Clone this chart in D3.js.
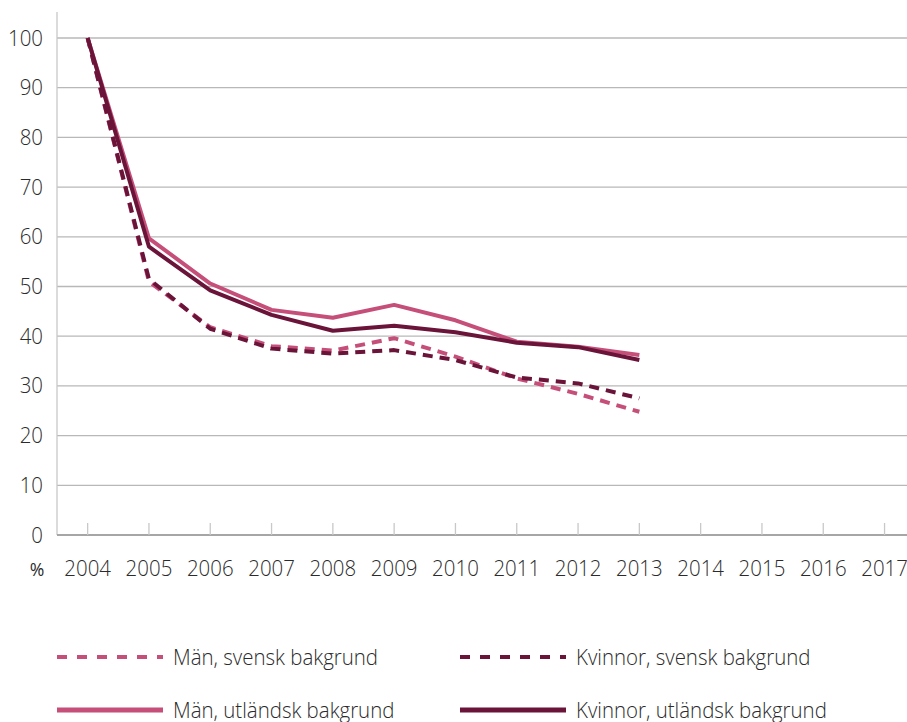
<!DOCTYPE html>
<html>
<head>
<meta charset="utf-8">
<script src="https://cdn.jsdelivr.net/npm/d3@7"></script>
<style>
  body { margin: 0; background: #fff; }
  text { font-family: "Open Sans", sans-serif; font-weight: 300; fill: #2b2b2b; }
</style>
</head>
<body>
<div id="chart"></div>
<script>
// Years on the x axis
const years = [2004, 2005, 2006, 2007, 2008, 2009, 2010, 2011, 2012, 2013, 2014, 2015, 2016, 2017];
const dataYears = [2004, 2005, 2006, 2007, 2008, 2009, 2010, 2011, 2012, 2013];
const yTicks = [0, 10, 20, 30, 40, 50, 60, 70, 80, 90, 100];

// Index values (2004 = 100)
const manSvensk = [100, 51.0, 41.8, 38.0, 37.1, 39.6, 35.9, 31.5, 28.4, 24.8];
const kvinnorSvensk = [100, 51.5, 41.5, 37.5, 36.5, 37.2, 35.2, 31.7, 30.5, 27.5];
const manUtlandsk = [100, 59.7, 50.6, 45.3, 43.7, 46.3, 43.2, 38.9, 37.9, 36.2];
const kvinnorUtlandsk = [100, 58.0, 49.2, 44.3, 41.1, 42.1, 40.8, 38.7, 37.8, 35.2];

const seriesNames = ["Män, svensk bakgrund", "Kvinnor, svensk bakgrund", "Män, utländsk bakgrund", "Kvinnor, utländsk bakgrund"];

const pink = "#c64f7a";
const dark = "#6b1439";

const series = [
    { name: seriesNames[0], values: manSvensk, color: pink, dashed: true },
    { name: seriesNames[1], values: kvinnorSvensk, color: dark, dashed: true },
    { name: seriesNames[2], values: manUtlandsk, color: pink, dashed: false },
    { name: seriesNames[3], values: kvinnorUtlandsk, color: dark, dashed: false }
];

const width = 907, height = 722;
const plotLeft = 57, plotTop = 38, plotBottom = 535;
const step = 61.3;

const svg = d3.select("#chart").append("svg")
    .attr("width", width)
    .attr("height", height);

const x = d3.scaleBand()
    .domain(years)
    .range([plotLeft, plotLeft + step * years.length])
    .padding(0);

const y = d3.scaleLinear()
    .domain([0, 100])
    .range([plotBottom, plotTop]);

const cx = d => x(d) + x.bandwidth() / 2;

// gridlines
svg.append("g")
    .selectAll("line")
    .data(yTicks.filter(d => d > 0))
    .enter().append("line")
    .attr("x1", plotLeft).attr("x2", width)
    .attr("y1", d => y(d)).attr("y2", d => y(d))
    .attr("stroke", "#b8b8b8")
    .attr("stroke-width", 1.3);

// y axis line
svg.append("line")
    .attr("x1", plotLeft).attr("x2", plotLeft)
    .attr("y1", 12).attr("y2", plotBottom)
    .attr("stroke", "#c8c8c8")
    .attr("stroke-width", 1.3);

// x axis with inward ticks
const xAxis = svg.append("g")
    .attr("transform", `translate(0,${plotBottom})`)
    .call(d3.axisBottom(x).tickSize(-12).tickSizeOuter(0).tickFormat(""));
xAxis.select(".domain").attr("stroke", "#a6a6a6").attr("stroke-width", 2)
    .attr("d", `M${plotLeft},0H${width}`);
xAxis.selectAll(".tick line").attr("stroke", "#c8c8c8").attr("stroke-width", 1.3);

// labels (slightly condensed)
const fs = 22, sx = 0.93;
svg.append("g")
    .selectAll("text")
    .data(yTicks)
    .enter().append("text")
    .attr("transform", d => `translate(43,${y(d) + 7.5}) scale(${sx},1)`)
    .attr("text-anchor", "end")
    .style("font-size", fs + "px")
    .text(d => d);

svg.append("g")
    .selectAll("text")
    .data(years)
    .enter().append("text")
    .attr("transform", d => `translate(${cx(d)},576) scale(${sx},1)`)
    .attr("text-anchor", "middle")
    .style("font-size", fs + "px")
    .text(d => d);

svg.append("text")
    .attr("transform", `translate(37,576) scale(${sx},1)`)
    .attr("text-anchor", "middle")
    .style("font-size", "19px")
    .style("font-weight", 400)
    .text("%");

// lines
const line = d3.line()
    .x((d, i) => cx(dataYears[i]))
    .y(d => y(d));

svg.append("g")
    .selectAll("path")
    .data(series)
    .enter().append("path")
    .attr("d", d => line(d.values))
    .attr("fill", "none")
    .attr("stroke", d => d.color)
    .attr("stroke-width", 4)
    .attr("stroke-dasharray", d => d.dashed ? "10,7" : null)
    .attr("stroke-linejoin", "round");

// legend
const legendPos = [
    { x: 57, y: 657 }, { x: 460, y: 657 },
    { x: 57, y: 710 }, { x: 460, y: 710 }
];
const legend = svg.append("g")
    .selectAll("g")
    .data(series)
    .enter().append("g")
    .attr("transform", (d, i) => `translate(${legendPos[i].x},${legendPos[i].y})`);

legend.append("line")
    .attr("x1", 0).attr("x2", 106)
    .attr("y1", 0).attr("y2", 0)
    .attr("stroke", d => d.color)
    .attr("stroke-width", d => d.dashed ? 4 : 5)
    .attr("stroke-dasharray", d => d.dashed ? "10,10" : null);

legend.append("text")
    .attr("transform", `translate(116,8) scale(${sx},1)`)
    .style("font-size", fs + "px")
    .text(d => d.name);
</script>
</body>
</html>
